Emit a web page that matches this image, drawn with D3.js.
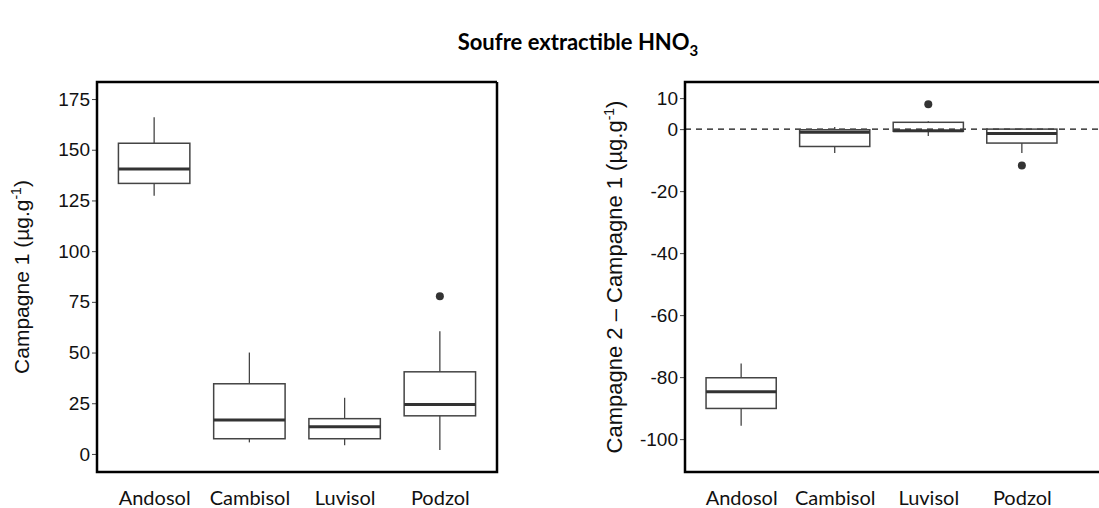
<!DOCTYPE html>
<html>
<head>
<meta charset="utf-8">
<script src="https://cdn.jsdelivr.net/npm/d3@7"></script>
<style>
  html, body { margin: 0; padding: 0; background: #fff; }
  svg { display: block; }
</style>
</head>
<body>
<svg id="chart" width="1099" height="508"></svg>
<script>
// Soil groups on the x axis
const categories = ["Andosol", "Cambisol", "Luvisol", "Podzol"];

// Campaign 1 box statistics (µg/g)
const c1Low    = [127.3, 5.7, 4.3, 2.0];
const c1Q1     = [133.4, 7.5, 7.5, 18.8];
const c1Median = [140.5, 16.7, 13.4, 24.4];
const c1Q3     = [153.2, 34.6, 17.4, 40.5];
const c1High   = [166.0, 50.0, 27.7, 60.5];
const c1Outliers = [[], [], [], [77.7]];

// Difference campaign 2 - campaign 1 (µg/g)
const dLow    = [-95.7, -7.7, -2.2, -7.7];
const dQ1     = [-90.1, -5.6, -0.7, -4.5];
const dMedian = [-84.7, -1.0, -0.5, -1.4];
const dQ3     = [-80.2, -0.2, 2.2, 0.0];
const dHigh   = [-75.6, 0.7, 2.5, 0.3];
const dOutliers = [[], [], [8.0], [-11.7]];

// Tick values
const c1Ticks = [0, 25, 50, 75, 100, 125, 150, 175];
const dTicks = [-100, -80, -60, -40, -20, 0, 10];

const svg = d3.select("#chart");

function buildStats(low, q1, med, q3, high, outs) {
  return categories.map((c, i) => ({
    cat: c, low: low[i], q1: q1[i], med: med[i], q3: q3[i], high: high[i], outliers: outs[i]
  }));
}

function drawPanel(opts) {
  const { x0, x1, frameRight, top, bottom, domain, ticks, stats, title, titleX, titleSize, zeroLine } = opts;
  const g = svg.append("g");

  const x = d3.scalePoint().domain(categories).range([x0, x1]).padding(0.6);
  const y = d3.scaleLinear().domain(domain).range([bottom, top]);
  const bw = x.step() * 0.75;

  // y axis ticks and labels (plain hyphen for negatives)
  const yAxis = d3.axisLeft(y).tickValues(ticks).tickSize(5).tickPadding(2).tickFormat(d => String(d));
  const ya = g.append("g").attr("transform", `translate(${x0},0)`).call(yAxis);
  ya.select(".domain").remove();
  ya.selectAll(".tick line").attr("stroke", "#444").attr("stroke-width", 1);
  ya.selectAll(".tick text")
    .attr("fill", "#111")
    .style("font-family", "'Liberation Sans', Arial, sans-serif")
    .style("font-size", "19px");

  // x axis category labels (no ticks)
  const xAxis = d3.axisBottom(x).tickSize(0).tickPadding(0);
  const xa = g.append("g").attr("transform", `translate(0,${bottom})`).call(xAxis);
  xa.select(".domain").remove();
  xa.selectAll(".tick text")
    .attr("dy", null)
    .attr("y", 33)
    .attr("fill", "#111")
    .style("font-family", "Lato, 'Open Sans', sans-serif")
    .style("font-size", "20px");

  // reference line at zero
  if (zeroLine) {
    g.append("line")
      .attr("x1", x0).attr("x2", frameRight)
      .attr("y1", y(0)).attr("y2", y(0))
      .attr("stroke", "#111").attr("stroke-width", 1.2)
      .attr("stroke-dasharray", "6,5");
  }

  const box = g.selectAll(".box").data(stats).join("g").attr("class", "box");
  // whiskers
  box.append("line")
    .attr("x1", d => x(d.cat)).attr("x2", d => x(d.cat))
    .attr("y1", d => y(d.high)).attr("y2", d => y(d.q3))
    .attr("stroke", "#444").attr("stroke-width", 1.3);
  box.append("line")
    .attr("x1", d => x(d.cat)).attr("x2", d => x(d.cat))
    .attr("y1", d => y(d.q1)).attr("y2", d => y(d.low))
    .attr("stroke", "#444").attr("stroke-width", 1.3);
  // interquartile box
  box.append("rect")
    .attr("x", d => x(d.cat) - bw / 2)
    .attr("width", bw)
    .attr("y", d => y(d.q3))
    .attr("height", d => Math.max(0.5, y(d.q1) - y(d.q3)))
    .attr("fill", "none")
    .attr("stroke", "#444").attr("stroke-width", 1.5);
  // median
  box.append("line")
    .attr("x1", d => x(d.cat) - bw / 2).attr("x2", d => x(d.cat) + bw / 2)
    .attr("y1", d => y(d.med)).attr("y2", d => y(d.med))
    .attr("stroke", "#333").attr("stroke-width", 3);
  // outliers
  box.selectAll("circle").data(d => d.outliers.map(v => ({ cat: d.cat, v })))
    .join("circle")
    .attr("cx", d => x(d.cat)).attr("cy", d => y(d.v))
    .attr("r", 4).attr("fill", "#333");

  // panel frame
  g.append("path")
    .attr("d", `M${frameRight},${top}H${x0}V${bottom}H${frameRight}` + (frameRight < 1099 ? `V${top}` : ""))
    .attr("fill", "none").attr("stroke", "#000").attr("stroke-width", 2.5);

  // y axis title
  const t = g.append("text")
    .attr("transform", `translate(${titleX},${(top + bottom) / 2}) rotate(-90)`)
    .attr("text-anchor", "middle")
    .attr("fill", "#111")
    .style("font-family", "'Liberation Sans', Arial, sans-serif")
    .style("font-size", titleSize + "px");
  t.append("tspan").text(title);
  t.append("tspan").attr("dy", -8).style("font-size", Math.round(titleSize * 0.65) + "px").text("-1");
  t.append("tspan").attr("dy", 8).text(")");
}

drawPanel({
  x0: 97, x1: 497, frameRight: 497, top: 82, bottom: 472,
  domain: [-8.9, 183.4], ticks: c1Ticks,
  stats: buildStats(c1Low, c1Q1, c1Median, c1Q3, c1High, c1Outliers),
  title: "Campagne 1 (µg.g", titleX: 29, titleSize: 21, zeroLine: false
});

drawPanel({
  x0: 685, x1: 1078, frameRight: 1110, top: 82, bottom: 472,
  domain: [-110.6, 15.2], ticks: dTicks,
  stats: buildStats(dLow, dQ1, dMedian, dQ3, dHigh, dOutliers),
  title: "Campagne 2 – Campagne 1 (µg.g", titleX: 622, titleSize: 22, zeroLine: true
});

// main title
const mt = svg.append("text")
  .attr("x", 578).attr("y", 50)
  .attr("text-anchor", "middle")
  .attr("fill", "#000")
  .style("font-family", "Lato, 'Open Sans', sans-serif")
  .style("font-weight", "bold")
  .style("font-size", "22px");
mt.append("tspan").text("Soufre extractible HNO");
mt.append("tspan").attr("dy", 6).style("font-size", "15px").text("3");
</script>
</body>
</html>
